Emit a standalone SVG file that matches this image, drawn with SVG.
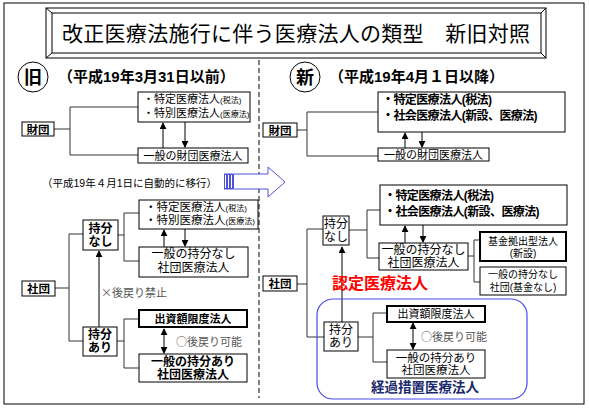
<svg xmlns="http://www.w3.org/2000/svg" width="589" height="411" viewBox="0 0 589 411">
<defs>
<style>
text{font-family:"Liberation Sans","Noto Sans CJK JP",sans-serif;fill:#000}
.j{font-family:"Noto Sans CJK JP","Noto Sans",sans-serif}
.b{fill:#fff;stroke:#000;stroke-width:1}
.tb{fill:#fff;stroke:#000;stroke-width:2}
.c{fill:none;stroke:#333;stroke-width:1}
.a{fill:none;stroke:#000;stroke-width:1}
.m{text-anchor:middle}
.bold{font-weight:bold}
.g{fill:#555}
</style>
<marker id="ah" viewBox="0 0 8 8" refX="7" refY="4" markerWidth="7" markerHeight="7" markerUnits="userSpaceOnUse" orient="auto-start-reverse">
<path d="M0,0 L8,4 L0,8 Z" fill="#000"/>
</marker>
</defs>
<rect x="0" y="0" width="589" height="411" fill="#fff"/>
<rect x="4" y="3" width="580" height="401" fill="none" stroke="#000" stroke-width="1"/>

<g id="title">
<rect x="46" y="8" width="500" height="50" fill="#fff" stroke="#000"/>
<rect x="52" y="13" width="489" height="40" fill="#fff" stroke="#000"/>
<path d="M46,8 L52,13 M546,8 L541,13 M46,58 L52,53 M546,58 L541,53" stroke="#000" fill="none"/>
<text x="62" y="40.5" font-size="21" textLength="468" lengthAdjust="spacing">改正医療法施行に伴う医療法人の類型　新旧対照</text>
</g>

<line x1="259" y1="60" x2="259" y2="398" stroke="#000" stroke-dasharray="5,3" stroke-width="1"/>

<g id="connectors">
<path class="c" d="M54,129 H70 M70,107 V155 M70,107 H138 M70,155 H138"/>
<line class="a" x1="163" y1="148" x2="163" y2="123" marker-end="url(#ah)"/>
<line class="a" x1="185" y1="122" x2="185" y2="147" marker-end="url(#ah)"/>
<path class="c" d="M55,288 H69 M69,234 V341 M69,234 H83 M69,341 H83"/>
<path class="c" d="M118,235 H124 M124,213 V261 M124,213 H139 M124,261 H139"/>
<line class="a" x1="164" y1="247" x2="164" y2="230" marker-end="url(#ah)"/>
<line class="a" x1="185" y1="229" x2="185" y2="246" marker-end="url(#ah)"/>
<line class="a" x1="99" y1="327" x2="99" y2="251" marker-end="url(#ah)"/>
<path class="c" d="M117,341 H124 M124,319 V368 M124,319 H139 M124,368 H139"/>
<line class="a" x1="164" y1="329" x2="164" y2="353" marker-start="url(#ah)" marker-end="url(#ah)"/>
<path class="c" d="M297,130 H307 M307,112 V156 M307,112 H378 M307,156 H378"/>
<line class="a" x1="405" y1="148" x2="405" y2="133" marker-end="url(#ah)"/>
<line class="a" x1="422" y1="132" x2="422" y2="147" marker-end="url(#ah)"/>
<path class="c" d="M297,284 H307 M307,229 V337 M307,229 H323 M307,337 H324"/>
<path class="c" d="M349,230 H367 M367,210 V258 M367,210 H380 M367,258 H379"/>
<line class="a" x1="405" y1="243" x2="405" y2="226" marker-end="url(#ah)"/>
<line class="a" x1="423" y1="225" x2="423" y2="242" marker-end="url(#ah)"/>
<path class="c" d="M468,256 H474 M474,240 V282 M474,240 H480 M474,282 H480"/>
<line class="a" x1="342" y1="322" x2="342" y2="247" marker-end="url(#ah)"/>
<path class="c" d="M358,337 H373 M373,313 V362 M373,313 H387 M373,362 H387"/>
<line class="a" x1="413" y1="323" x2="413" y2="349" marker-start="url(#ah)" marker-end="url(#ah)"/>
</g>

<g id="old-header">
<circle cx="33" cy="77" r="15" fill="#fff" stroke="#000"/>
<text x="33" y="84" class="m bold" font-size="18">旧</text>
<text x="58" y="82" class="bold" font-size="15">（平成19年3月31日以前）</text>
</g>

<g id="new-header">
<circle cx="305" cy="77" r="15" fill="#fff" stroke="#000"/>
<text x="305" y="84" class="m bold" font-size="18">新</text>
<text x="329" y="82" class="bold" font-size="15">（平成19年4月１日以降）</text>
</g>

<g id="old-zaidan">
<rect class="b" x="22" y="122" width="32" height="14"/>
<text x="38" y="133.5" class="m bold" font-size="11.5">財団</text>
</g>
<g id="old-tokutei1">
<rect class="b" x="138" y="92" width="112" height="30"/>
<text font-size="11"><tspan x="143" y="103">・特定医療法人<tspan font-size="8">(税法)</tspan></tspan><tspan x="143" y="117">・特別医療法人<tspan font-size="8">(医療法)</tspan></tspan></text>
</g>
<g id="old-ippan-zaidan">
<rect class="b" x="138" y="148" width="110" height="15"/>
<text x="193" y="159.5" class="m" font-size="11">一般の財団医療法人</text>
</g>

<text x="42" y="187" font-size="10.5">（平成19年４月1日に自動的に移行）</text>

<g id="transition-arrow" fill="#fff" stroke="#5050d8" stroke-width="1">
<rect x="224.5" y="174" width="2" height="15"/>
<rect x="227.5" y="174" width="2" height="15"/>
<rect x="230.5" y="174" width="2" height="15"/>
<path d="M233.5,174 H268 V167 L285,182 L268,197 V189 H233.5 Z"/>
</g>

<g id="old-tokutei2">
<rect class="b" x="139" y="200" width="119" height="29"/>
<text font-size="11.5"><tspan x="145" y="211">・特定医療法人<tspan font-size="8">(税法)</tspan></tspan><tspan x="145" y="224">・特別医療法人<tspan font-size="8">(医療法)</tspan></tspan></text>
</g>
<g id="old-mochibun-nashi">
<rect class="b" x="83" y="220" width="35" height="30"/>
<text class="m bold" font-size="12"><tspan x="100.5" y="233">持分</tspan><tspan x="100.5" y="246">なし</tspan></text>
</g>
<g id="old-ippan-nashi">
<rect class="b" x="139" y="247" width="109" height="30"/>
<text class="m" font-size="12"><tspan x="193.5" y="258">一般の持分なし</tspan><tspan x="193.5" y="272">社団医療法人</tspan></text>
</g>
<g id="old-shadan">
<rect class="b" x="22" y="281" width="33" height="15"/>
<text x="38.5" y="292.5" class="m bold" font-size="11.5">社団</text>
</g>
<text x="101" y="297" class="g j" font-size="11">×後戻り禁止</text>
<g id="old-mochibun-ari">
<rect class="b" x="83" y="327" width="34" height="29"/>
<text class="m bold" font-size="12"><tspan x="100" y="339">持分</tspan><tspan x="100" y="352">あり</tspan></text>
</g>
<g id="old-shusshi">
<rect class="tb" x="139" y="310" width="108" height="17"/>
<text x="193" y="322.5" class="m bold" font-size="11">出資額限度法人</text>
</g>
<g id="old-ippan-ari">
<rect class="b" x="139" y="354" width="108" height="28"/>
<text class="m bold" font-size="12"><tspan x="193" y="365.5">一般の持分あり</tspan><tspan x="193" y="378.5">社団医療法人</tspan></text>
</g>
<text x="176" y="346" class="g j" font-size="11">○後戻り可能</text>

<g id="new-zaidan">
<rect class="b" x="263" y="123" width="34" height="14"/>
<text x="280" y="134.5" class="m bold" font-size="11.5">財団</text>
</g>
<g id="new-tokutei1">
<rect class="b" x="378" y="92" width="187" height="40"/>
<text class="bold" font-size="12" letter-spacing="-0.6"><tspan x="382" y="104">・特定医療法人(税法)</tspan><tspan x="382" y="120">・社会医療法人(新設、医療法)</tspan></text>
</g>
<g id="new-ippan-zaidan">
<rect class="b" x="378" y="148" width="111" height="13"/>
<text x="433.5" y="158.5" class="m" font-size="11">一般の財団医療法人</text>
</g>

<g id="new-tokutei2">
<rect class="b" x="380" y="185" width="187" height="40"/>
<text class="bold" font-size="12" letter-spacing="-0.6"><tspan x="384" y="200">・特定医療法人(税法)</tspan><tspan x="384" y="216">・社会医療法人(新設、医療法)</tspan></text>
</g>
<g id="new-mochibun-nashi">
<rect class="b" x="323" y="216" width="26" height="29"/>
<text class="m" font-size="12"><tspan x="336" y="227.5">持分</tspan><tspan x="336" y="241">なし</tspan></text>
</g>
<g id="new-ippan-nashi">
<rect class="b" x="379" y="243" width="89" height="27"/>
<text class="m" font-size="12"><tspan x="423.5" y="254">一般の持分なし</tspan><tspan x="423.5" y="267">社団医療法人</tspan></text>
</g>
<g id="new-kikin">
<rect class="tb" x="480" y="232" width="86" height="29"/>
<text class="m" font-size="10"><tspan x="523" y="245">基金拠出型法人</tspan><tspan x="523" y="257">(新設)</tspan></text>
</g>
<g id="new-ippan-kikinnashi">
<rect class="b" x="480" y="267" width="86" height="28"/>
<text class="m" font-size="10"><tspan x="523" y="278">一般の持分なし</tspan><tspan x="523" y="291">社団(基金なし)</tspan></text>
</g>
<g id="new-shadan">
<rect class="b" x="263" y="276" width="34" height="15"/>
<text x="280" y="287.5" class="m bold" font-size="11.5">社団</text>
</g>
<text x="380" y="289" class="m bold" font-size="16" style="fill:#ff0000">認定医療法人</text>

<g id="keika-group">
<rect x="317" y="299" width="210" height="100" rx="16" ry="16" fill="none" stroke="#4a4aee" stroke-width="1.2"/>
</g>
<g id="new-mochibun-ari">
<rect class="b" x="324" y="322" width="34" height="29"/>
<text class="m" font-size="12"><tspan x="341" y="334">持分</tspan><tspan x="341" y="347">あり</tspan></text>
</g>
<g id="new-shusshi">
<rect class="tb" x="387" y="306" width="98" height="16"/>
<text x="436" y="318" class="m" font-size="11">出資額限度法人</text>
</g>
<g id="new-ippan-ari">
<rect class="b" x="387" y="350" width="98" height="28"/>
<text class="m" font-size="11.5"><tspan x="436" y="361.5">一般の持分あり</tspan><tspan x="436" y="374">社団医療法人</tspan></text>
</g>
<text x="421" y="341" class="g j" font-size="11">○後戻り可能</text>
<text x="425" y="392" class="m bold" font-size="13.5" style="fill:#1a2a6c">経過措置医療法人</text>
</svg>
